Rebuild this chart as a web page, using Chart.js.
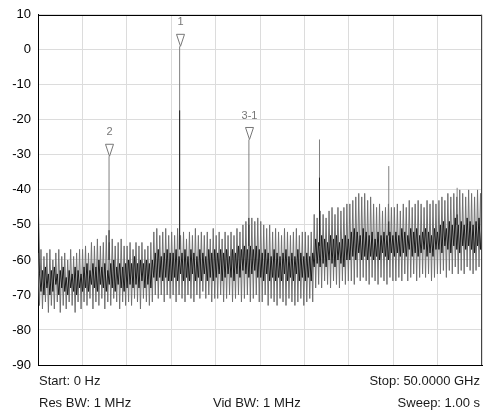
<!DOCTYPE html>
<html>
<head>
<meta charset="utf-8">
<script src="https://cdn.jsdelivr.net/npm/chart.js@4"></script>
<style>
    body { margin: 0; background: #fff; }
    #wrap { position: relative; width: 490px; height: 412px; }
    .info { position: absolute; font: 13px "Liberation Sans", Arial, sans-serif; color: #1a1a1a; line-height: 16px; white-space: nowrap; }
</style>
</head>
<body>
<div id="wrap">
    <canvas id="spectrum" width="490" height="412"></canvas>
    <div class="info" style="left:39px; top:373px;">Start: 0 Hz</div>
    <div class="info" style="right:10px; top:373px;">Stop: 50.0000 GHz</div>
    <div class="info" style="left:39px; top:395px;">Res BW: 1 MHz</div>
    <div class="info" style="left:213px; top:395px;">Vid BW: 1 MHz</div>
    <div class="info" style="right:10px; top:395px;">Sweep: 1.00 s</div>
</div>
<script>
const startGHz = 0;
const stopGHz = 50;
const yTicks = [10, 0, -10, -20, -30, -40, -50, -60, -70, -80, -90];

// Grey trace (dBm), one row per 5 GHz division
const greyTrace = [
    -58,-73,-57,-74,-59,-72,-58,-75,-57,-73,-60,-74,-58,-72,-57,-75,-59,-73,-58,-74,-60,-72,-57,-73,-59,-75,-58,-72,-57,-74,
    -57,-72,-56,-73,-58,-71,-55,-74,-56,-72,-54,-73,-56,-71,-55,-74,-53,-72,-55,-73,-54,-71,-56,-72,-55,-74,-54,-72,-56,-73,
    -56,-72,-55,-73,-57,-71,-55,-72,-56,-74,-55,-71,-57,-72,-56,-73,-55,-72,-52,-70,-51,-71,-53,-70,-52,-72,-51,-70,-53,-71,
    -52,-70,-53,-72,-51,-70,-53,-71,-52,-72,-54,-70,-52,-71,-53,-72,-51,-70,-53,-71,-52,-69,-53,-71,-52,-70,-54,-72,-51,-71,
    -53,-71,-52,-70,-54,-72,-52,-71,-53,-70,-52,-72,-53,-71,-51,-70,-52,-72,-50,-71,-49,-70,-50,-72,-48,-71,-49,-70,-48,-72,
    -49,-72,-50,-70,-51,-73,-50,-71,-52,-72,-51,-73,-52,-71,-53,-72,-51,-73,-52,-71,-53,-72,-52,-73,-51,-72,-53,-71,-52,-73,
    -52,-72,-53,-71,-52,-72,-47,-68,-48,-67,-46,-68,-47,-66,-48,-67,-46,-68,-45,-66,-47,-67,-45,-68,-46,-66,-45,-67,-44,-66,
    -44,-66,-43,-67,-42,-65,-41,-66,-42,-65,-41,-66,-43,-67,-42,-65,-44,-66,-45,-67,-44,-65,-46,-66,-45,-67,-44,-65,-45,-66,
    -45,-66,-44,-65,-46,-66,-44,-64,-45,-66,-43,-65,-45,-64,-44,-66,-43,-65,-44,-64,-45,-65,-43,-64,-44,-66,-43,-65,-44,-64,
    -43,-64,-42,-63,-43,-65,-41,-63,-42,-64,-41,-62,-42,-64,-40,-63,-41,-64,-42,-62,-40,-63,-41,-64,-42,-63,-40,-62,-41,-63
];

// Black trace (dBm)
const blackTrace = [
    -38,-64,-69,-63,-70,-62,-68,-64,-70,-63,-69,-62,-67,-64,-70,-63,-68,-62,-69,-65,-70,-63,-68,-64,-69,-62,-70,-63,-68,-64,
    -69,-62,-68,-61,-69,-63,-67,-61,-68,-62,-69,-60,-67,-62,-68,-61,-69,-63,-67,-61,-68,-60,-69,-62,-67,-61,-68,-62,-69,-61,
    -68,-60,-67,-61,-68,-59,-67,-61,-68,-60,-66,-61,-68,-60,-67,-61,-68,-60,-65,-58,-66,-57,-65,-59,-66,-58,-65,-57,-66,-58,
    -66,-58,-65,-57,-66,-59,-64,-58,-66,-57,-65,-59,-66,-57,-64,-58,-66,-59,-65,-57,-66,-58,-64,-59,-66,-57,-65,-58,-66,-57,
    -65,-58,-64,-57,-66,-58,-65,-57,-64,-59,-65,-57,-66,-58,-64,-56,-65,-57,-63,-56,-64,-57,-65,-56,-64,-57,-63,-56,-65,-57,
    -65,-58,-66,-57,-64,-58,-66,-59,-65,-57,-66,-58,-65,-59,-66,-58,-64,-57,-66,-59,-65,-58,-66,-59,-64,-57,-66,-58,-65,-59,
    -66,-58,-65,-59,-66,-58,-62,-54,-61,-55,-62,-53,-61,-54,-62,-55,-60,-53,-61,-54,-62,-53,-60,-55,-61,-54,-62,-53,-60,-54,
    -60,-52,-59,-51,-60,-52,-58,-53,-60,-51,-59,-52,-60,-53,-59,-52,-60,-54,-59,-52,-60,-53,-58,-52,-59,-53,-60,-52,-58,-53,
    -59,-52,-58,-53,-59,-51,-58,-52,-59,-53,-57,-51,-59,-52,-58,-51,-59,-53,-58,-52,-57,-51,-59,-52,-58,-53,-59,-51,-57,-52,
    -57,-50,-58,-49,-56,-51,-57,-49,-58,-50,-56,-48,-57,-50,-58,-49,-56,-50,-57,-48,-56,-49,-57,-50,-58,-49,-56,-48,-57,-49
];

// Discrete spurs / harmonics
const spurFreq = [8.0, 15.95, 23.75, 31.7, 39.5, 47.2];
const spurBase = [-60, -57, -56, -56, -53, -50];
const spurGreyTop = [-30.4, 1.0, -25.6, -25.6, -33.2, -39.4];
const spurBlackTop = [-51.5, -17.3, -48, -36.5, -49, -47];

// Markers
const markerFreq = [15.95, 8.0, 23.75];
const markerLevel = [1.0, -30.4, -25.6];
const markerLabel = ['1', '2', '3-1'];

function toPoints(values) {
    const step = (stopGHz - startGHz) / (values.length - 1);
    return values.map((v, i) => ({ x: startGHz + i * step, y: v }));
}

const datasets = [];
datasets.push({ data: toPoints(blackTrace), borderColor: '#1a1a1a', borderWidth: 1, order: 0 });
datasets.push({ data: toPoints(greyTrace), borderColor: '#707070', borderWidth: 1, order: 2 });
spurFreq.forEach((f, i) => {
    datasets.push({ data: [{ x: f, y: spurBase[i] }, { x: f, y: spurBlackTop[i] }], borderColor: '#222', borderWidth: 1, order: 1 });
    datasets.push({ data: [{ x: f, y: spurBase[i] }, { x: f, y: spurGreyTop[i] }], borderColor: '#808080', borderWidth: 1, order: 3 });
});

const frameAndMarkers = {
    id: 'frameAndMarkers',
    afterDatasetsDraw(chart) {
        const ctx = chart.ctx;
        const area = chart.chartArea;
        const xs = chart.scales.x;
        const ys = chart.scales.y;
        ctx.save();
        // top and right frame
        ctx.strokeStyle = '#000';
        ctx.lineWidth = 1;
        ctx.beginPath();
        ctx.moveTo(area.left, Math.round(area.top) + 0.5);
        ctx.lineTo(area.right, Math.round(area.top) + 0.5);
        ctx.stroke();
        ctx.strokeStyle = '#444';
        ctx.beginPath();
        ctx.moveTo(Math.round(area.right) - 0.5, area.top);
        ctx.lineTo(Math.round(area.right) - 0.5, area.bottom);
        ctx.stroke();

        // marker triangles and labels
        markerFreq.forEach((f, i) => {
            const px = Math.round(xs.getPixelForValue(f)) + 0.5;
            const py = ys.getPixelForValue(markerLevel[i]);
            ctx.beginPath();
            ctx.moveTo(px - 4, py - 12);
            ctx.lineTo(px + 4, py - 12);
            ctx.lineTo(px, py);
            ctx.closePath();
            ctx.fillStyle = '#fff';
            ctx.fill();
            ctx.strokeStyle = '#777';
            ctx.stroke();
            ctx.fillStyle = '#777';
            ctx.font = '11px "Liberation Sans", Arial, sans-serif';
            ctx.textAlign = 'center';
            ctx.textBaseline = 'middle';
            ctx.fillText(markerLabel[i], px, py - 24);
        });
        ctx.restore();
    }
};

new Chart(document.getElementById('spectrum'), {
    type: 'line',
    data: { datasets: datasets },
    options: {
        responsive: false,
        animation: false,
        events: [],
        layout: { padding: { top: 11, right: 8, bottom: 47, left: 0 } },
        elements: { point: { radius: 0 }, line: { tension: 0 } },
        plugins: { legend: { display: false }, tooltip: { enabled: false } },
        scales: {
            x: {
                type: 'linear',
                min: startGHz,
                max: stopGHz,
                ticks: { display: false, stepSize: 5 },
                grid: { color: '#dcdcdc', drawTicks: false },
                border: { color: '#000' }
            },
            y: {
                min: -90,
                max: 10,
                afterBuildTicks: (scale) => { scale.ticks = yTicks.map(v => ({ value: v })); },
                afterFit: (scale) => { scale.width = 38; },
                ticks: {
                    color: '#000',
                    padding: 7,
                    font: { family: '"Liberation Sans", Arial, sans-serif', size: 13 }
                },
                grid: { color: '#dcdcdc', drawTicks: false },
                border: { color: '#000' }
            }
        }
    },
    plugins: [frameAndMarkers]
});
</script>
</body>
</html>
